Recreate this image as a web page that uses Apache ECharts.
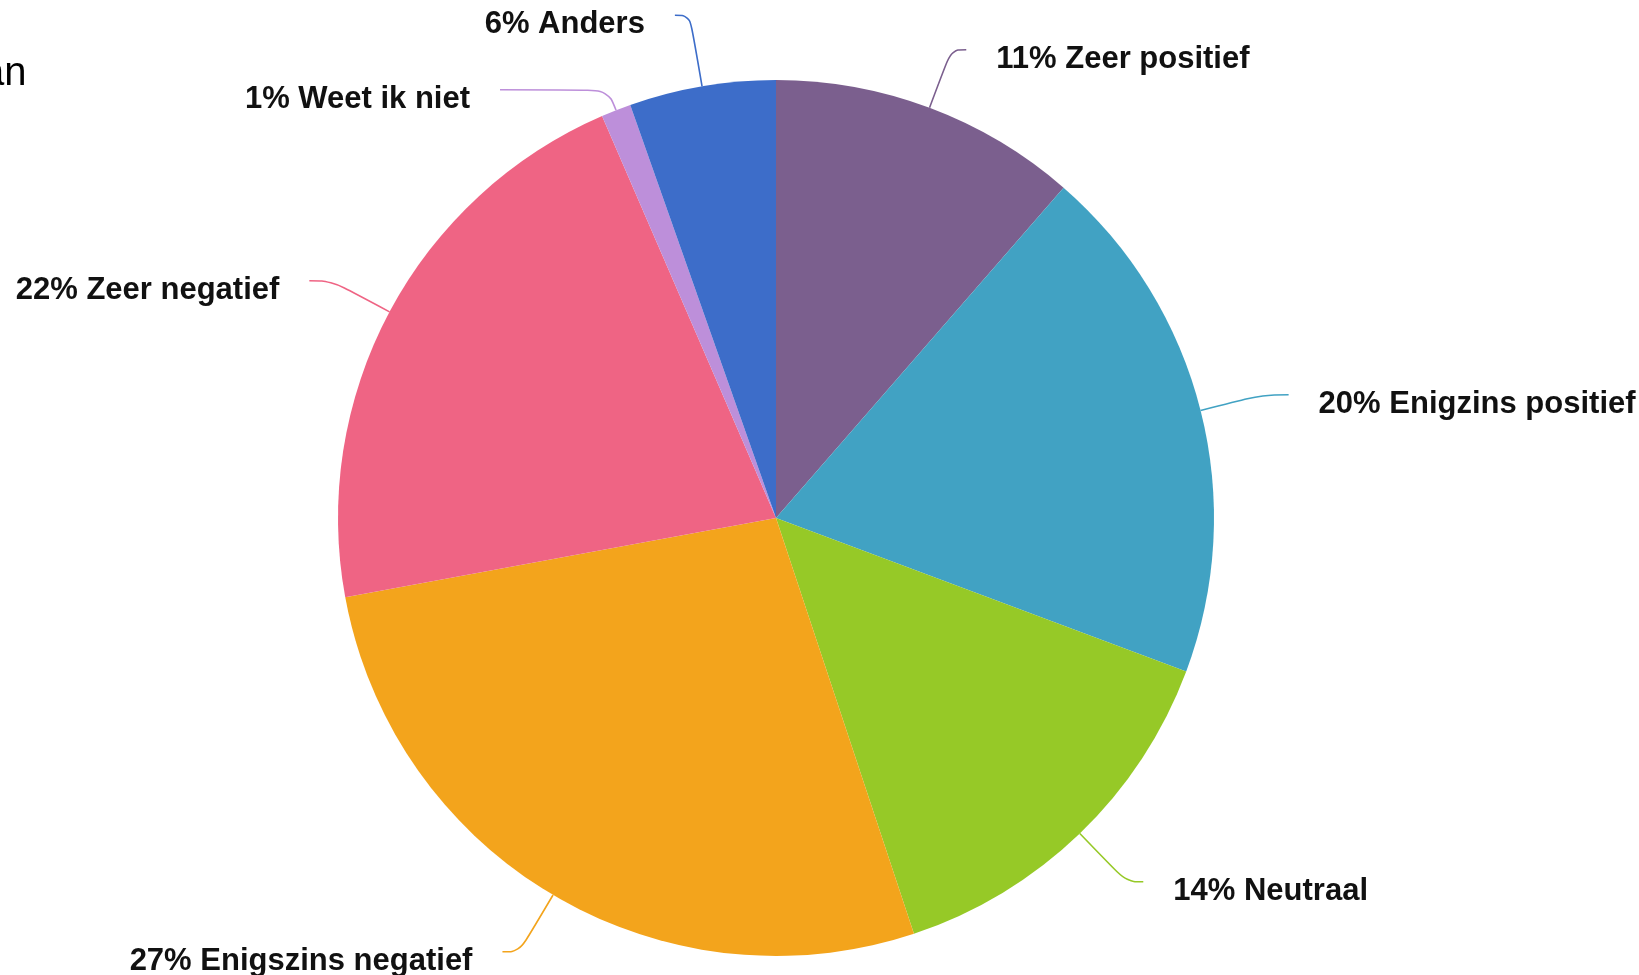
<!DOCTYPE html>
<html>
<head>
<meta charset="utf-8">
<script src="https://cdn.jsdelivr.net/npm/echarts@6/dist/echarts.min.js"></script>
<style>
  html, body { margin: 0; padding: 0; background: #fff; }
  #chart { width: 1639px; height: 975px; }
</style>
</head>
<body>
<div id="chart"></div>
<script>
// antwoorden, met de klok mee vanaf boven
var categories = ['Zeer positief', 'Enigzins positief', 'Neutraal', 'Enigszins negatief', 'Zeer negatief', 'Weet ik niet', 'Anders'];
// percentages zoals in de labels
var labelPct = [11, 20, 14, 27, 22, 1, 6];
var sliceValues = [11.4, 19.3, 14.2, 27.2, 21.4, 1.1, 5.4];
var sliceColors = ['#7b5f8e', '#41a2c3', '#96c927', '#f3a41c', '#ef6484', '#bd8fda', '#3d6dc9'];
// lengte van de labellijnen (eerste stuk, tweede stuk)
var lineLen = [62, 64, 67, 66, 66, 22, 72];
var lineLen2 = [15, 26, 17, 17, 22, 108, 15];

var chart = echarts.init(document.getElementById('chart'));

var pieData = [];
for (let i = 0; i < categories.length; i++) {
  pieData.push({
    name: categories[i],
    value: sliceValues[i],
    itemStyle: { color: sliceColors[i] },
    labelLine: { length: lineLen[i], length2: lineLen2[i] }
  });
}

var option = {
  animation: false,
  backgroundColor: '#fff',
  graphic: [
    {
      // afgesneden titel linksboven
      type: 'text',
      left: -38,
      top: 54,
      style: {
        text: 'van',
        fill: '#000',
        font: '40px "Liberation Sans", Arial, sans-serif'
      }
    }
  ],
  series: [
    {
      type: 'pie',
      center: [776, 518],
      radius: 438,
      startAngle: 90,
      clockwise: true,
      avoidLabelOverlap: false,
      data: pieData,
      label: {
        show: true,
        position: 'outside',
        formatter: function (p) {
          return '{t|' + labelPct[p.dataIndex] + '% ' + p.name + '}';
        },
        distanceToLabelLine: 30,
        rich: {
          // tekst iets onder het eind van de lijn
          t: {
            color: '#111',
            fontFamily: '"Liberation Sans", Arial, sans-serif',
            fontWeight: 'bold',
            fontSize: 31,
            lineHeight: 50,
            verticalAlign: 'bottom'
          }
        }
      },
      labelLine: {
        show: true,
        smooth: 0.4,
        lineStyle: { width: 1.6 }
      },
      itemStyle: {
        borderWidth: 0
      },
      emphasis: { disabled: true }
    }
  ]
};
chart.setOption(option);
</script>
</body>
</html>
